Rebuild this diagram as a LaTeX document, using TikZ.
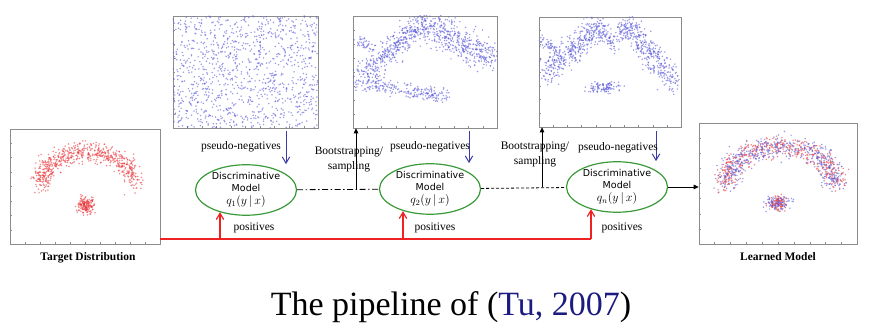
\documentclass[tikz,border=0pt]{standalone}
\usepackage{fontspec}
\setmainfont{Liberation Serif}
\newfontfamily\discfont{DejaVu Sans}
\usepackage{xcolor}
\usepackage{tikz}
\usetikzlibrary{positioning,arrows.meta,calc,shapes.geometric}
\definecolor{ptred}     {HTML}{E8383D}
\definecolor{ptblue}    {HTML}{5A5AD8}
\definecolor{negblue}   {HTML}{3C3CA8}
\definecolor{posred}    {HTML}{EE2222}
\definecolor{discgreen} {HTML}{3A9A3A}
\definecolor{framegray} {HTML}{8C8C8C}
\definecolor{citeblue}  {HTML}{1C1C80}
\tikzset{
  plotbox/.style  = {draw=framegray, line width=0.5pt, inner sep=0pt},
  plottick/.style = {draw=framegray, line width=0.4pt},
  disc/.style     = {ellipse, draw=discgreen, line width=1.2pt,
                     minimum width=101pt, minimum height=50pt, inner sep=0pt,
                     align=center, font=\discfont\fontsize{9.5}{12}\selectfont},
  neg/.style      = {-{Straight Barb[length=2.2mm,width=2.6mm]}, draw=negblue, line width=1pt},
  posl/.style     = {draw=posred, line width=1.2pt},
  posarr/.style   = {posl, -{Straight Barb[length=2.2mm,width=2.6mm]}},
  boot/.style     = {-{Triangle[length=1.8mm,width=1.6mm]}, line width=0.8pt},
  link/.style     = {line width=0.8pt},
  lbl/.style      = {font=\fontsize{11.5}{15}\selectfont, align=center},
  plotname/.style = {font=\bfseries\fontsize{11.5}{14}\selectfont},
  bdot/.style     = {fill=ptblue, fill opacity=0.6},
  rdot/.style     = {fill=ptred, fill opacity=0.6},
}
% scatter helpers: band from (#1,#2) to (#3,#4), spread #5, #6 points, style #7
\newcommand\dotband[7]{%
  \foreach \k in {1,...,#6}{%
    \pgfmathsetmacro\bt{rnd}%
    \pgfmathsetmacro\bx{#1+(#3-#1)*\bt+#5*(rnd+rnd+rnd-1.5)}%
    \pgfmathsetmacro\by{#2+(#4-#2)*\bt+#5*(rnd+rnd+rnd-1.5)}%
    \fill[#7] (\bx,\by) circle (0.85pt);}}
% half ring round (#1,#2), radii #3/#4
\newcommand\dotarc[7]{%
  \foreach \k in {1,...,#6}{%
    \pgfmathsetmacro\ba{180*rnd}%
    \pgfmathsetmacro\bx{#1+#3*cos(\ba)+#5*(rnd+rnd+rnd-1.5)}%
    \pgfmathsetmacro\by{#2-#4*sin(\ba)+#5*(rnd+rnd+rnd-1.5)}%
    \fill[#7] (\bx,\by) circle (0.85pt);}}
\newcommand\dotblob[6]{%
  \foreach \k in {1,...,#5}{%
    \pgfmathsetmacro\bx{#1+#3*(rnd+rnd+rnd-1.5)}%
    \pgfmathsetmacro\by{#2+#4*(rnd+rnd+rnd-1.5)}%
    \fill[#6] (\bx,\by) circle (0.85pt);}}
\newcommand\dotrect[6]{%
  \foreach \k in {1,...,#5}{%
    \fill[#6] ({#1+(#3-#1)*rnd},{#2+(#4-#2)*rnd}) circle (0.85pt);}}

\begin{document}
\begin{tikzpicture}[x=1pt,y=-1pt]
  \useasboundingbox (0,0) rectangle (869,328);
  \pgfmathsetseed{2007}

  % plots
  \node[plotbox, minimum width=150pt, minimum height=115pt] (tgt) at (85,186.5) {};
  \node[plotbox, minimum width=145pt, minimum height=112pt] (pl1) at (245.5,72) {};
  \node[plotbox, minimum width=144pt, minimum height=112pt] (pl2) at (425,72) {};
  \node[plotbox, minimum width=142pt, minimum height=110pt] (pl3) at (610,72) {};
  \node[plotbox, minimum width=158pt, minimum height=121pt] (lrn) at (778,183.5) {};

  \foreach \p in {tgt,pl1,pl2,pl3,lrn}{
    \foreach \f in {0,...,10}
      \draw[plottick] ($(\p.south west)!\f/10!(\p.south east)$) -- ++(0,-2.5);
    \foreach \f in {0,...,8}
      \draw[plottick] ($(\p.south west)!\f/8!(\p.north west)$) -- ++(2.5,0);
  }

  \begin{scope}
    \clip (tgt.south west) rectangle (tgt.north east);
    \dotarc{88}{185}{47}{33}{10}{650}{rdot}
    \dotblob{86}{205}{8}{8}{170}{rdot}
  \end{scope}
  \begin{scope}
    \clip (pl1.south west) rectangle (pl1.north east);
    \dotrect{173}{16}{318}{128}{1100}{bdot}
  \end{scope}
  \begin{scope}
    \clip (pl2.south west) rectangle (pl2.north east);
    \dotband{357}{80}{428}{18}{13}{420}{bdot}
    \dotband{428}{26}{497}{62}{16}{420}{bdot}
    \dotband{358}{83}{447}{96}{7}{220}{bdot}
    \dotband{354}{40}{372}{48}{5}{40}{bdot}
  \end{scope}
  \begin{scope}
    \clip (pl3.south west) rectangle (pl3.north east);
    \dotband{540}{40}{558}{50}{5}{50}{bdot}
    \dotband{545}{75}{600}{24}{12}{380}{bdot}
    \dotband{600}{24}{612}{45}{8}{60}{bdot}
    \dotband{612}{45}{627}{24}{8}{60}{bdot}
    \dotband{627}{24}{672}{82}{12}{340}{bdot}
    \dotblob{605}{88}{16}{6}{100}{bdot}
  \end{scope}
  \begin{scope}
    \clip (lrn.south west) rectangle (lrn.north east);
    \dotarc{781}{184}{55}{37}{11}{500}{rdot}
    \dotarc{781}{184}{55}{37}{12}{500}{bdot}
    \dotblob{778}{203}{9}{7}{110}{rdot}
    \dotblob{778}{203}{12}{7}{90}{bdot}
  \end{scope}

  % models
  \node[disc] (q1) at (246,190)
    {Discriminative\\Model\\[1.5pt]{\fontsize{12}{12}\selectfont$q_1(y\,|\,x)$}};
  \node[disc] (q2) at (430,189)
    {Discriminative\\Model\\[1.5pt]{\fontsize{12}{12}\selectfont$q_2(y\,|\,x)$}};
  \node[disc] (q3) at (617,187)
    {Discriminative\\Model\\[1.5pt]{\fontsize{12}{12}\selectfont$q_n(y\,|\,x)$}};

  \draw[link, dash pattern=on 6pt off 2.5pt on 1.5pt off 2.5pt] (q1) -- (q2);
  \draw[link, dash pattern=on 3pt off 2pt] (q2) -- (q3);
  \draw[boot] (q3.east) -- (q3.east -| lrn.west);

  % bootstrapping
  \coordinate (b1) at (356,190);
  \coordinate (b2) at (542,187);
  \draw[boot] (b1) -- (b1 |- pl2.south);
  \draw[boot] (b2) -- (b2 |- pl3.south);
  \node[lbl] at (349,159.5) {Bootstrapping/\\sampling};
  \node[lbl] at (535,154.5) {Bootstrapping/\\sampling};

  % negatives
  \coordinate (n1) at (286,131);
  \coordinate (n2) at (469,131);
  \coordinate (n3) at (656,131);
  \draw[neg] (n1) -- (n1 |- q1.north);
  \draw[neg] (n2) -- (n2 |- q2.north);
  \draw[neg] (n3) -- (n3 |- q3.north);
  \node[lbl, above=9pt of q1, xshift=-5pt] {pseudo-negatives};
  \node[lbl, above=8pt of q2] {pseudo-negatives};
  \node[lbl, above=5pt of q3, xshift=1pt] {pseudo-negatives};

  % positives
  \coordinate (r0) at (160,239);
  \coordinate (r1) at (220,239);
  \coordinate (r2) at (403,239);
  \coordinate (r3) at (591,239);
  \draw[posl] (r0) -- (r3);
  \draw[posarr] (r1) -- (r1 |- q1.220);
  \draw[posarr] (r2) -- (r2 |- q2.220);
  \draw[posarr] (r3) -- (r3 |- q3.220);
  \node[lbl, below=3pt of q1, xshift=8pt] {positives};
  \node[lbl, below=4pt of q2, xshift=5pt] {positives};
  \node[lbl, below=6pt of q3, xshift=5pt] {positives};

  \node[plotname, below=5pt of tgt, xshift=3pt] {Target Distribution};
  \node[plotname, below=5pt of lrn] {Learned Model};

  \node[font=\fontsize{34}{40}\selectfont] (title) at (451,307)
    {The pipeline of (\textcolor{citeblue}{Tu, 2007})};
\end{tikzpicture}
\end{document}
